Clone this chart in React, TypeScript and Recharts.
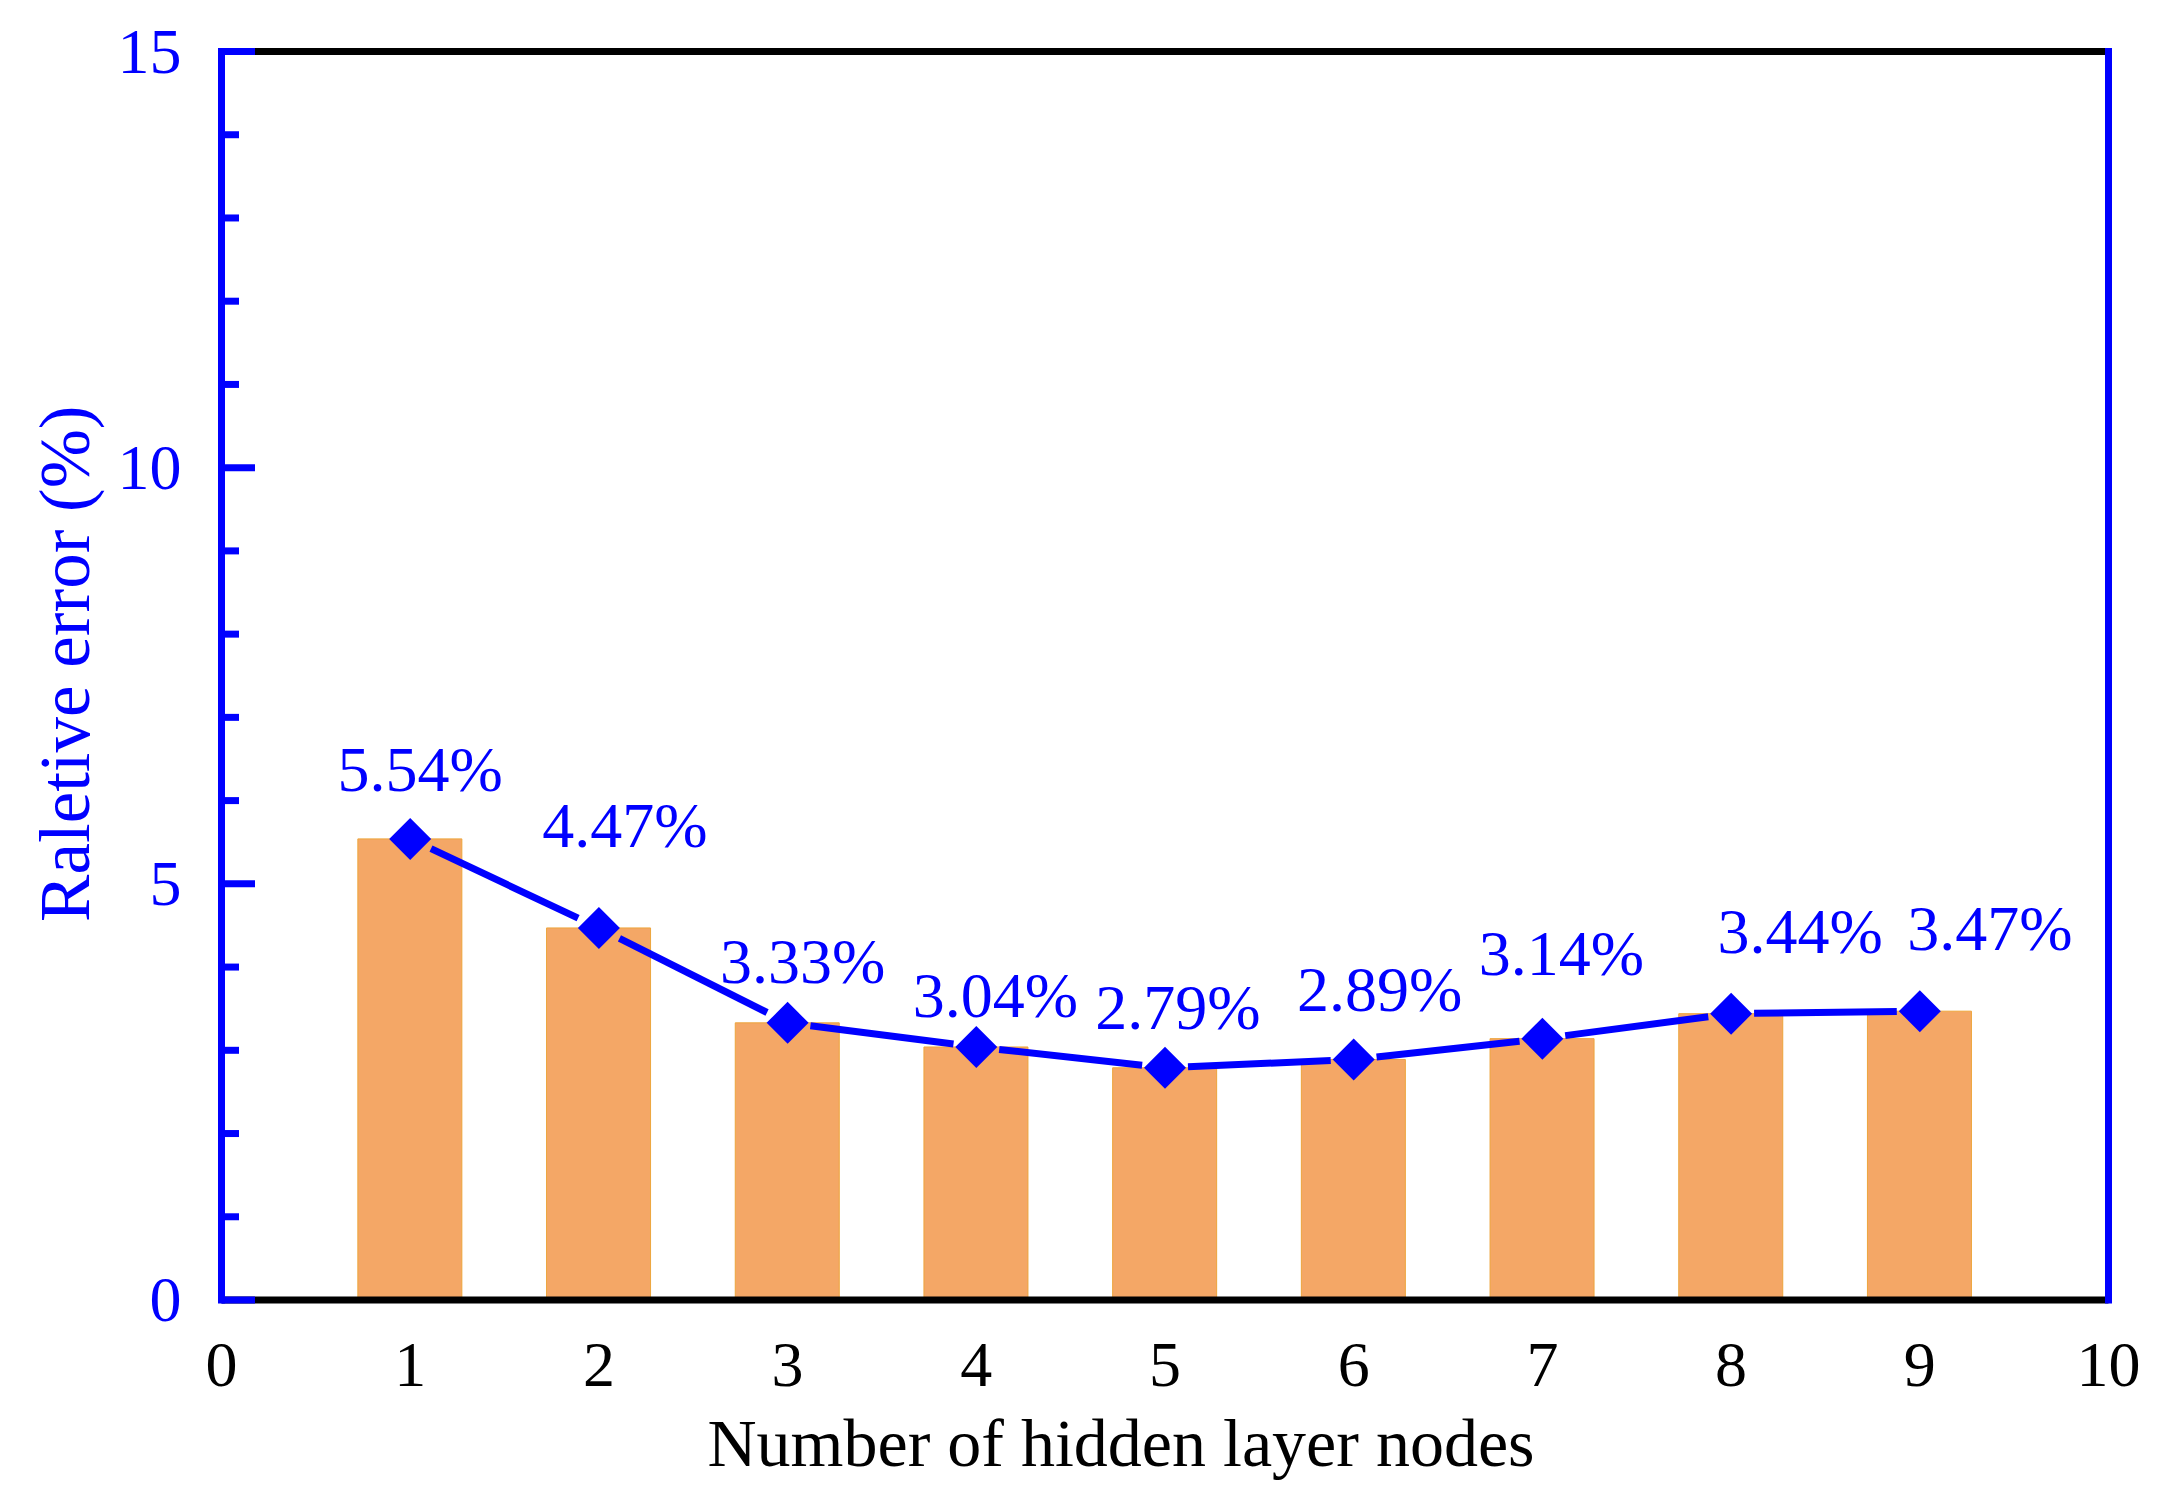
import { Bar, ComposedChart, Label, Line, XAxis, YAxis } from "recharts";

const nodes = [1, 2, 3, 4, 5, 6, 7, 8, 9];
const relativeError = [5.54, 4.47, 3.33, 3.04, 2.79, 2.89, 3.14, 3.44, 3.47];
const xTicks = [0, 1, 2, 3, 4, 5, 6, 7, 8, 9, 10];
const yTicks = [0, 1, 2, 3, 4, 5, 6, 7, 8, 9, 10, 11, 12, 13, 14, 15];

// where each value label sits relative to its marker (text centre, baseline)
const labelShift = [
  [10, -48],
  [26, -81],
  [15, -40],
  [19, -30],
  [13, -39],
  [26, -48],
  [19, -64],
  [69, -61],
  [70, -61],
];

const BLUE = "#0000ff";
const FONT = '"Liberation Serif", "Times New Roman", serif';
const GAP = 23;

const rows = nodes.map((n, i) => ({ n, err: relativeError[i] }));

function LeftTick({ x, y, payload }: any) {
  const v = payload.value;
  const major = v % 5 === 0;
  return (
    <g>
      <line x1={x} y1={y} x2={x + (major ? 33.5 : 17.5)} y2={y} stroke={BLUE} strokeWidth={7} />
      {major && (
        <text x={x - 40} y={y} dy={21} textAnchor="end" fontSize={64} fontFamily={FONT} fill={BLUE}>
          {v}
        </text>
      )}
    </g>
  );
}

function RightTick({ x, y, payload }: any) {
  const major = payload.value % 5 === 0;
  return <line x1={x} y1={y} x2={x - (major ? 33.5 : 17.5)} y2={y} stroke={BLUE} strokeWidth={7} />;
}

function BottomTick({ x, y, payload }: any) {
  return (
    <text x={x} y={y + 86} textAnchor="middle" fontSize={64} fontFamily={FONT} fill="#000">
      {payload.value}
    </text>
  );
}

function Marker(props: any) {
  const { cx, cy, index, points, payload } = props;
  const next = points && points[index + 1];
  let seg = null;
  if (next) {
    const dx = next.x - cx;
    const dy = next.y - cy;
    const len = Math.hypot(dx, dy);
    const ux = dx / len;
    const uy = dy / len;
    seg = (
      <line
        x1={cx + ux * GAP}
        y1={cy + uy * GAP}
        x2={next.x - ux * GAP}
        y2={next.y - uy * GAP}
        stroke={BLUE}
        strokeWidth={7}
      />
    );
  }
  const [sx, sy] = labelShift[index];
  const h = 21;
  return (
    <g key={`m-${index}`}>
      {seg}
      <path d={`M${cx},${cy - h}L${cx + h},${cy}L${cx},${cy + h}L${cx - h},${cy}Z`} fill={BLUE} />
      <text x={cx + sx} y={cy + sy} textAnchor="middle" fontSize={64} fontFamily={FONT} fill={BLUE}>
        {payload.err.toFixed(2)}%
      </text>
    </g>
  );
}

export default function App() {
  return (
    <div style={{ position: "absolute", left: 0, top: 0, width: 2160, height: 1504, background: "#fff" }}>
      <ComposedChart
        width={2160}
        height={1504}
        data={rows}
        margin={{ top: 41.5, right: 31.5, bottom: 54, left: 21.5 }}
      >
        <Bar
          dataKey="err"
          barSize={104}
          fill="#f4a766"
          stroke="#eda53c"
          strokeWidth={1}
          isAnimationActive={false}
        />
        <XAxis
          dataKey="n"
          type="number"
          domain={[0, 10]}
          ticks={xTicks}
          interval={0}
          height={150}
          tickSize={0}
          tickMargin={0}
          tickLine={false}
          axisLine={{ stroke: "#000", strokeWidth: 7 }}
          tick={<BottomTick />}
        >
          <Label
            content={({ viewBox }: any) => (
              <text
                x={viewBox.x + viewBox.width / 2 - 44}
                y={viewBox.y + 166}
                textAnchor="middle"
                fontSize={68}
                fontFamily={FONT}
                fill="#000"
              >
                Number of hidden layer nodes
              </text>
            )}
          />
        </XAxis>
        <XAxis
          xAxisId="top"
          orientation="top"
          dataKey="n"
          type="number"
          domain={[0, 10]}
          height={10}
          tick={false}
          tickLine={false}
          axisLine={{ stroke: "#000", strokeWidth: 7 }}
        />
        <YAxis
          domain={[0, 15]}
          ticks={yTicks}
          interval={0}
          width={200}
          tickSize={0}
          tickMargin={0}
          tickLine={false}
          axisLine={{ stroke: BLUE, strokeWidth: 7, strokeLinecap: "square" }}
          tick={<LeftTick />}
        >
          <Label
            content={({ viewBox }: any) => {
              const x = viewBox.x + 67.5;
              const y = viewBox.y + viewBox.height / 2 - 12;
              return (
                <text
                  x={x}
                  y={y}
                  transform={`rotate(-90, ${x}, ${y})`}
                  textAnchor="middle"
                  fontSize={71}
                  fontFamily={FONT}
                  fill={BLUE}
                >
                  Raletive error (%)
                </text>
              );
            }}
          />
        </YAxis>
        <YAxis
          yAxisId="r"
          orientation="right"
          domain={[0, 15]}
          ticks={yTicks}
          interval={0}
          width={20}
          tickSize={0}
          tickMargin={0}
          tickLine={false}
          axisLine={{ stroke: BLUE, strokeWidth: 7, strokeLinecap: "square" }}
          tick={<RightTick />}
        />
        <Line
          dataKey="err"
          stroke="none"
          dot={(p: any) => <Marker {...p} />}
          activeDot={false}
          isAnimationActive={false}
        />
      </ComposedChart>
    </div>
  );
}
